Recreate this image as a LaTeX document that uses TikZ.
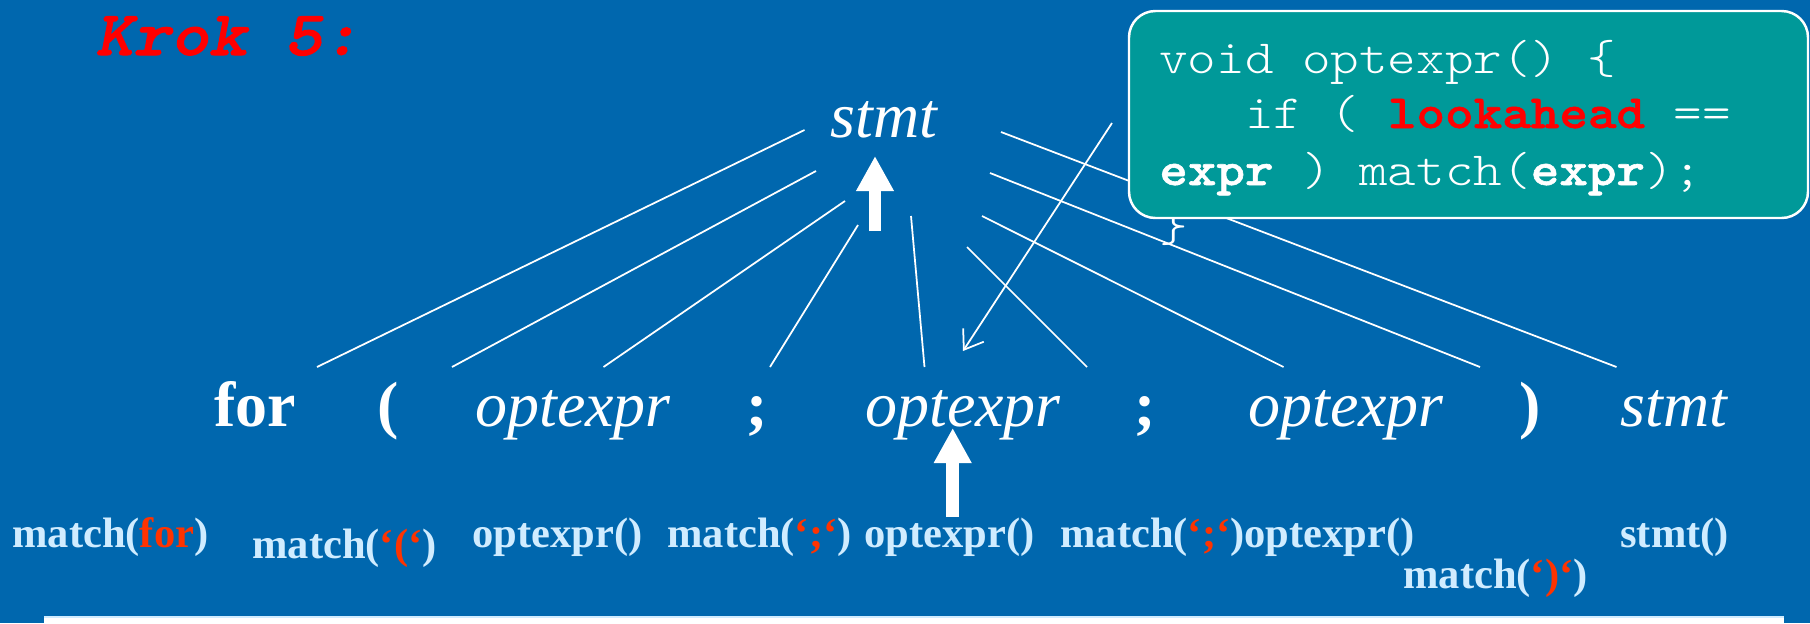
\documentclass[tikz,border=0pt]{standalone}
\usepackage{fontspec}
\setmainfont{Liberation Serif}
\newfontfamily\codefont{lmmonolt10}[Extension=.otf, UprightFont=*-regular, BoldFont=*-bold, ItalicFont=*-oblique, BoldItalicFont=*-boldoblique, FakeStretch=1.143, BoldFeatures={FakeBold=1.2}, BoldItalicFeatures={FakeBold=1.6}]
\usetikzlibrary{arrows.meta}
\tikzset{>=stealth}
\definecolor{slideBlue}{RGB}{0,103,174}
\definecolor{boxTeal}{RGB}{0,153,153}
\definecolor{callBlue}{RGB}{208,236,255}
\definecolor{tokenRed}{RGB}{255,51,0}
\colorlet{penColor}{white}
\tikzset{
  term/.style={anchor=base, inner sep=0pt, text=white, font=\fontsize{36.4}{40}\selectfont\bfseries},
  nonterm/.style={anchor=base, inner sep=0pt, text=white, font=\fontsize{36.4}{40}\selectfont\itshape},
  call/.style={anchor=base west, inner sep=0pt, text=callBlue, font=\fontsize{24.2}{28}\selectfont\bfseries},
  codeline/.style={anchor=base west, inner sep=0pt, text=white, font=\fontsize{27.1}{32}\selectfont\codefont},
  pointer/.style={white, line width=7.2pt, -{Triangle[length=20pt,width=20.2pt]}}
}

\begin{document}
\begin{tikzpicture}[x=0.02cm, y=-0.02cm]
		\fill [slideBlue] (0,0) rectangle (1810,623);
		\useasboundingbox (0,0) rectangle (1810,623);
		\fill [white] (44,617) rectangle (1784,623);
		\draw [callBlue, line width=0.8pt] (44,617) -- (1784,617);
		% heading
		\node [anchor=base west, inner sep=0pt, text=red, font=\fontsize{35.9}{40}\selectfont\codefont\bfseries\itshape] (krok) at (95,55) {Krok 5:};
		% parse tree
		\node [nonterm] (root) at (884,137) {stmt};
		\node [term] (for) at (255,426) {for};
		\node [term] (lpar) at (388,426) {(};
		\node [nonterm] (opt1) at (573,426) {optexpr};
		\node [term] (semi1) at (757,426) {;};
		\node [nonterm] (opt2) at (963,426) {optexpr};
		\node [term] (semi2) at (1145,426) {;};
		\node [nonterm] (opt3) at (1346,426) {optexpr};
		\node [term] (rpar) at (1530,426) {)};
		\node [nonterm] (body) at (1674,426) {stmt};
		\coordinate (t1) at (804.5,130);
		\coordinate (t2) at (816,171);
		\coordinate (t3) at (845,201);
		\coordinate (t4) at (858,225);
		\coordinate (t5) at (911,216);
		\coordinate (t6) at (967,247);
		\coordinate (t7) at (982,216);
		\coordinate (t8) at (990,173);
		\coordinate (t9) at (1001,132);
		\coordinate (b1) at (317,367);
		\coordinate (b2) at (452,367);
		\coordinate (b3) at (603.5,367);
		\coordinate (b4) at (770,367);
		\coordinate (b5) at (924.5,367);
		\coordinate (b6) at (1087,367);
		\coordinate (b7) at (1283.5,367);
		\coordinate (b8) at (1480,367);
		\coordinate (b9) at (1616.5,367);
		\draw [penColor, line width=1pt] (t1) -- (b1);
		\draw [penColor, line width=1pt] (t2) -- (b2);
		\draw [penColor, line width=1pt] (t3) -- (b3);
		\draw [penColor, line width=1pt] (t4) -- (b4);
		\draw [penColor, line width=1pt] (t5) -- (b5);
		\draw [penColor, line width=1pt] (t6) -- (b6);
		\draw [penColor, line width=1pt] (t7) -- (b7);
		\draw [penColor, line width=1pt] (t8) -- (b8);
		\draw [penColor, line width=1pt] (t9) -- (b9);
		% procedure calls
		\node [call] (mfor) at (12,547) {match(\textcolor{tokenRed}{for})};
		\node [call] (mlpar) at (252,558) {match(\textcolor{tokenRed}{‘(‘})};
		\node [call] (copt1) at (472,547) {optexpr()};
		\node [call] (msemi1) at (667,547) {match(\textcolor{tokenRed}{‘;‘})};
		\node [call] (copt2) at (864,547) {optexpr()};
		\node [call] (msemi2) at (1060,547) {match(\textcolor{tokenRed}{‘;‘})};
		\node [call] (copt3) at (1244,547) {optexpr()};
		\node [call] (mrpar) at (1403,588) {match(\textcolor{tokenRed}{‘)‘})};
		\node [call] (cbody) at (1620,547) {stmt()};
		% current position
		\coordinate (up1) at (875,231);
		\coordinate (tip1) at (875,156);
		\coordinate (up2) at (952.7,517);
		\coordinate (tip2) at (952.7,428);
		\draw [pointer] (up1) -- (tip1);
		\draw [pointer] (up2) -- (tip2);
		% code of optexpr
		\node [codeline] (close) at (1159,241) {\}};
		\draw [white, line width=1.4pt, fill=boxTeal, rounded corners=15pt] (1129,11) rectangle (1808,218);
		\node [codeline] (code1) at (1159,73) {void optexpr() \{};
		\node [codeline] (code2) at (1159,128) {\phantom{xxx}if ( \textbf{\textcolor{red}{lookahead}} ==};
		\node [codeline] (code3) at (1159,185) {\textbf{expr} ) match(\textbf{expr});};
		\coordinate (hint) at (1112,123);
		\coordinate (hit) at (963,351);
		\draw [penColor, line width=1pt, -{Straight Barb[length=10pt,width=14pt]}] (hint) -- (hit);
		\end{tikzpicture}
\end{document}
